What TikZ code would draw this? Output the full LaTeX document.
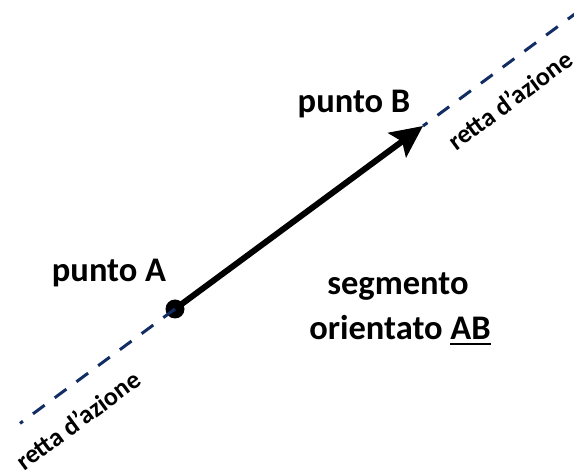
\documentclass[tikz,border=0pt]{standalone}
\usepackage{fontspec}
\setmainfont{Carlito}
\usetikzlibrary{arrows.meta}
\newcommand\ulAB[1]{\setbox0\hbox{#1}\rlap{\rule[-5.5pt]{\wd0}{2.8pt}}\box0}
\tikzset{
  lbl/.style={font=\bfseries\fontsize{34.5}{40}\selectfont, inner sep=0pt},
  rlbl/.style={font=\bfseries\fontsize{26}{30}\selectfont, inner sep=0pt, rotate=36.4},
  retta/.style={draw={rgb,255:red,18;green,44;blue,100}, line width=3pt, dash pattern=on 14.5pt off 12.5pt},
  vect/.style={draw=black, line width=6pt, -{Stealth[length=32pt,width=30pt,inset=6pt]}},
  dot/.style={circle, fill=black, minimum size=19pt, inner sep=0pt}
}
\begin{document}
\begin{tikzpicture}[x=1pt,y=-1pt]
\useasboundingbox (0,0) rectangle (574,470);
\coordinate (L) at (20,423.4);
\coordinate (R) at (580,10.2);
\coordinate (Ac) at (175,309);
\coordinate (B) at (423,126);
\draw[vect] (Ac) -- (B);
\node[dot] (A) at (Ac) {};
\draw[retta] (Ac) -- (L);
\draw[retta, dash phase=9pt] (B) -- (R);
\node[lbl, anchor=base] (pA) at (109,282) {punto A};
\node[lbl, anchor=base] (pB) at (354,113) {punto B};
\node[lbl, anchor=base] (seg) at (398,295) {segmento};
\node[lbl, anchor=base] (ori) at (400,340) {orientato \ulAB{AB}};
\node[rlbl] (r1) at (78,420) {retta d’azione};
\node[rlbl] (r2) at (510,100) {retta d’azione};
\end{tikzpicture}
\end{document}
